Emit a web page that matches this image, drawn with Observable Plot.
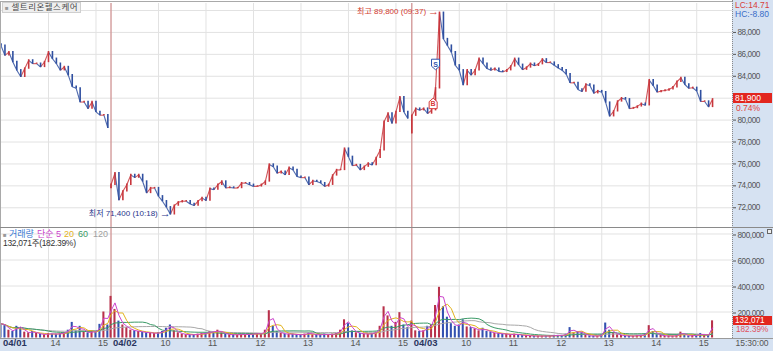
<!DOCTYPE html>
<html><head><meta charset="utf-8">
<script src="https://cdn.jsdelivr.net/npm/d3@7"></script>
<script src="https://cdn.jsdelivr.net/npm/@observablehq/plot@0.6"></script>
<style>
body{margin:0;background:#fff;}
#wrap{position:relative;width:773px;height:351px;overflow:hidden;background:#fff;font-family:"Liberation Sans","Noto Sans CJK KR",sans-serif;}
#wrap svg{position:absolute;left:0;}
#wrap g[aria-label="y-axis tick label"] text{letter-spacing:-0.45px;}
.ab{position:absolute;white-space:nowrap;line-height:1;}
</style></head><body><div id="wrap"></div>
<script>
// ---------- data (5-minute bars) ----------
const title = "셀트리온헬스케어";
const dayLabels = ["04/01", "04/02", "04/03"];
const dayStartHour = [13, 9, 9];
const dayOffset = [0, 139, 519];          // minute index of each day's first bar
const barStep = 5;                        // minutes per bar
const dayOpen = [86900, 73800, 78800];

const close1 = [86800, 85900, 86200, 85300, 84550, 83950, 84700, 85450, 85150, 85150,
  84850, 85300, 86200, 85600, 85150, 84550, 84850, 84100, 83050, 82900,
  81650, 81650, 81050, 81650, 80750, 80450, 80450, 79300];
const close2 = [74100, 75150, 72700, 73500, 74100, 75000, 74750, 75000, 74400, 73350,
  73800, 73800, 73050, 72600, 72050, 71400, 72200, 72500, 72600, 72600,
  72350, 72200, 72600, 72900, 72650, 73750, 73650, 74100, 74400, 73800,
  73850, 73800, 73800, 74250, 74250, 74100,
  73950, 73950, 74100, 74400, 75950, 75750, 75150, 75300, 75000, 75650,
  75450, 74850, 74750, 74750, 74100, 74450, 74400, 74250, 73950, 74100,
  74950, 75450, 75450, 77400, 76650, 75850, 75900, 75450, 75750, 76050,
  75900, 76550, 77250, 79850, 80600, 79700, 80750, 82100, 80750, 80150];
const close3 = [80400, 81050, 80900, 81050, 80600, 80900, 82900, 89800, 87400, 86800,
  86200, 85000, 84550, 83200, 84550, 84100, 84550, 85600, 85150, 84700,
  84550, 84700,
  84450, 84400, 84550, 84900, 85600, 85050, 84600, 84800, 85150, 84950,
  85100, 85550, 85250, 85250, 85000, 84750, 84550, 84200, 83400, 83400,
  82800, 82600, 83250, 83150, 82450, 82650, 82550, 81600, 80350, 80800,
  81700, 82000, 81900, 81050, 81100, 81250, 81500, 81350, 83650, 83150,
  82550, 82650, 82700, 82800, 83000, 83500, 83850, 83250, 82900, 82950,
  82650, 81700, 81700, 81200, 81900];

const vol1 = [110000, 95000, 60000, 50000, 90000, 80000, 45000, 40000, 50000, 35000,
  30000, 25000, 35000, 30000, 30000, 35000, 40000, 60000, 120000, 55000,
  90000, 45000, 40000, 50000, 45000, 105000, 200000, 100000];
const vol2 = [320000, 220000, 130000, 100000, 80000, 60000, 55000, 50000, 45000, 40000,
  40000, 35000, 40000, 50000, 75000, 100000, 55000, 40000, 30000, 25000,
  25000, 25000, 30000, 35000, 35000, 50000, 45000, 60000, 40000, 30000,
  25000, 25000, 25000, 30000, 25000, 30000,
  30000, 35000, 30000, 60000, 210000, 90000, 50000, 35000, 30000, 30000,
  30000, 25000, 25000, 30000, 40000, 25000, 25000, 25000, 30000, 25000,
  30000, 35000, 60000, 140000, 110000, 55000, 40000, 35000, 30000, 30000,
  35000, 45000, 90000, 240000, 170000, 90000, 120000, 195000, 100000, 80000];
const vol3 = [130000, 55000, 50000, 55000, 90000, 100000, 250000, 390000, 240000, 160000,
  110000, 90000, 100000, 140000, 85000, 80000, 70000, 55000, 75000, 50000,
  45000, 35000, 35000, 30000, 30000, 25000, 30000, 25000,
  20000, 20000, 15000, 15000, 15000, 15000, 15000, 15000, 20000, 20000,
  20000, 30000, 80000, 40000, 50000, 40000, 20000, 15000, 15000, 15000,
  25000, 115000, 60000, 40000, 25000, 20000, 15000, 15000, 15000, 20000,
  20000, 30000, 95000, 50000, 25000, 20000, 15000, 15000, 15000, 20000,
  45000, 20000, 15000, 20000, 20000, 35000, 20000, 25000, 132071];

const hourLabels = [["14", "15"], ["10", "11", "12", "13", "14", "15"], ["10", "11", "12", "13", "14", "15"]];
const priceTicks = [72000, 74000, 76000, 78000, 80000, 84000, 86000, 88000];   // 82,000 sits under the price box
const priceGrid = [72000, 74000, 76000, 78000, 80000, 82000, 84000, 86000, 88000, 90000];
const volTicks = [200000, 400000, 600000, 800000];

const extremeNames = ["최고", "최저"];
const extremeValues = [89800, 71400];
const extremeTimes = ["09:37", "10:18"];
const extremeDays = [2, 1];

const signalTypes = ["B", "S"];
const signalTimes = ["09:27", "09:30"];
const signalPrices = [81500, 85100];

const lastPrice = 81900, lastPct = "0.74%";
const lastVolume = 132071, lastVolPct = "182.39%";
const lastTime = "15:30:00";
const lcText = "LC:14.71", hcText = "HC:-8.80";
const volLegendName = "거래량", maPrefix = "단순";
const maLabels = ["5", "20", "60", "120"];
const maWindows = [2, 4, 12, 24]; // windows in 5-minute bars

// ---------- build ----------
const fmt = d3.format(",");
const RED = "#c8363c", BLUE = "#2f4fa0";
const MA_COLORS = ["#cc44cc", "#e3b21c", "#3a9a66", "#a8a8a8"];
const closesByDay = [close1, close2, close3], volsByDay = [vol1, vol2, vol3];
const rows = [];
closesByDay.forEach((cl, d) => cl.forEach((c, i) => {
  const open = i === 0 ? dayOpen[d] : cl[i - 1];
  const t = dayOffset[d] + barStep * i;
  rows.push({t, tPrev: i === 0 ? t : t - barStep, open, close: c, vol: volsByDay[d][i], up: c >= open});
}));
const tOf = (d, hhmm) => { const [h, m] = hhmm.split(":").map(Number); return dayOffset[d] + (h - dayStartHour[d]) * 60 + m; };
const hourTicks = [];
hourLabels.forEach((hs, d) => hs.forEach(h => hourTicks.push({t: tOf(d, h + ":00"), label: h})));
const dayTicks = dayLabels.map((l, d) => ({t: dayOffset[d], label: l}));
const seps = dayOffset.slice(1);
const extremes = extremeNames.map((n, i) => ({t: tOf(extremeDays[i], extremeTimes[i]), p: extremeValues[i],
  text: `${n} ${fmt(extremeValues[i])} (${extremeTimes[i]})`, color: i === 0 ? "#d23a30" : "#27358a"}));
const signals = signalTypes.map((s, i) => ({t: tOf(2, signalTimes[i]), p: signalPrices[i], s, color: s === "B" ? "#d83a3a" : "#2f55b0"}));

const tagDown = {draw(ctx, size) { const r = Math.sqrt(size / Math.PI), w = r * 0.8;
  ctx.moveTo(-w, -r); ctx.lineTo(w, -r); ctx.lineTo(w, r * 0.4); ctx.lineTo(0, r * 1.1); ctx.lineTo(-w, r * 0.4); ctx.closePath(); }};
const tagUp = {draw(ctx, size) { const r = Math.sqrt(size / Math.PI), w = r * 0.8;
  ctx.moveTo(-w, r); ctx.lineTo(w, r); ctx.lineTo(w, -r * 0.4); ctx.lineTo(0, -r * 1.1); ctx.lineTo(-w, -r * 0.4); ctx.closePath(); }};

const xDomain = [-0.63, 924.2];
const FONT = '"Liberation Sans","Noto Sans CJK KR",sans-serif';
const GRID = "#e2e2e2", SEP = "#d39a9a";

const price = Plot.plot({
  width: 773, height: 228, marginTop: 3, marginBottom: 1, marginLeft: 0, marginRight: 41,
  x: {domain: xDomain, axis: null, label: null},
  y: {domain: [70200, 90640], axis: null, label: null},
  style: {background: "transparent", fontFamily: FONT},
  marks: [
    Plot.ruleY(priceGrid, {stroke: GRID}),
    Plot.ruleX(hourTicks, {x: "t", stroke: GRID}),
    Plot.ruleX(seps, {stroke: SEP, strokeWidth: 1.4}),
    Plot.link(rows, {x1: "tPrev", x2: "t", y1: "open", y2: "close", stroke: d => d.up ? RED : BLUE, strokeWidth: 1.1, strokeOpacity: 0.85}),
    Plot.ruleX(rows, {x: "t", y1: d => Math.min(d.open, d.close) - 60, y2: d => Math.max(d.open, d.close) + 60,
      stroke: d => d.up ? RED : BLUE, strokeWidth: 1.6}),
    Plot.axisY({anchor: "right", label: null, ticks: priceTicks, tickFormat: fmt, tickSize: 3, tickPadding: 2, fontSize: 8.2, color: "#555"}),
    Plot.text(extremes, {x: "t", y: "p", text: "text", textAnchor: "end", dx: -15, dy: -1, fill: "color", fontSize: 8}),
    Plot.text(extremes, {x: "t", y: "p", text: () => "→", textAnchor: "end", dx: -2, dy: -1, fill: "color", fontSize: 11, fontWeight: "bold"}),
    Plot.dot(signals.filter(d => d.s === "S"), {x: "t", y: "p", r: 5, symbol: tagDown, fill: "white", stroke: "color", strokeWidth: 1}),
    Plot.dot(signals.filter(d => d.s === "B"), {x: "t", y: "p", r: 5, symbol: tagUp, fill: "white", stroke: "color", strokeWidth: 1}),
    Plot.text(signals, {x: "t", y: "p", text: "s", fill: "color", fontSize: 7, fontWeight: "bold", dy: 0.5})
  ]
});
price.style.top = "0px";

const volume = Plot.plot({
  width: 773, height: 123, marginTop: 0, marginBottom: 13, marginLeft: 0, marginRight: 41,
  x: {domain: xDomain, axis: null, label: null},
  y: {domain: [-3800, 842300], axis: null, label: null},
  style: {background: "transparent", fontFamily: FONT},
  marks: [
    Plot.ruleY(volTicks, {stroke: GRID}),
    Plot.ruleX(hourTicks, {x: "t", stroke: GRID}),
    Plot.ruleX(seps, {stroke: SEP, strokeWidth: 1.4}),
    Plot.rect(rows, {x1: d => d.t - 1.3, x2: d => d.t + 1.3, y1: 0, y2: "vol", fill: d => d.up ? "#b8304a" : "#3350b0"}),
    Plot.line(rows, Plot.windowY({k: maWindows[3], anchor: "end"}, {x: "t", y: "vol", stroke: MA_COLORS[3], strokeWidth: 1})),
    Plot.line(rows, Plot.windowY({k: maWindows[2], anchor: "end"}, {x: "t", y: "vol", stroke: MA_COLORS[2], strokeWidth: 1})),
    Plot.line(rows, Plot.windowY({k: maWindows[1], anchor: "end"}, {x: "t", y: "vol", stroke: MA_COLORS[1], strokeWidth: 1})),
    Plot.line(rows, Plot.windowY({k: maWindows[0], anchor: "end"}, {x: "t", y: "vol", stroke: MA_COLORS[0], strokeWidth: 1})),
    Plot.axisY({anchor: "right", label: null, ticks: volTicks, tickFormat: fmt, tickSize: 3, tickPadding: 2, fontSize: 8.2, color: "#555", dy: 1}),
    Plot.text(hourTicks, {x: "t", text: "label", frameAnchor: "bottom", dy: 7, dx: 2, textAnchor: "start", fill: "#555", fontSize: 9}),
    Plot.text(dayTicks, {x: "t", text: "label", frameAnchor: "bottom", dy: 7, dx: 2, textAnchor: "start", fill: "#2a3560", fontSize: 9.5, fontWeight: "bold"}),
    Plot.text([lastTime], {text: d => d, frameAnchor: "bottom-right", dy: 7, dx: 3, textAnchor: "start", fill: "#555", fontSize: 8.5})
  ]
});
volume.style.top = "228px";

// ---------- page ----------
const wrap = document.getElementById("wrap");
function div(css, html) { const e = document.createElement("div"); e.className = "ab"; e.style.cssText = css; if (html != null) e.innerHTML = html; wrap.appendChild(e); return e; }
const PANEL = "#d6e2f2";
div("left:732px;top:0;width:41px;height:351px;background:" + PANEL);
div("left:0;top:338px;width:773px;height:13px;background:" + PANEL);
wrap.appendChild(price);
wrap.appendChild(volume);
// frame lines
div("left:0;top:1px;width:732px;height:1px;background:#a9a9a9");
div("left:0;top:1px;width:1px;height:338px;background:#a9a9a9");
div("left:0;top:227px;width:773px;height:1px;background:#8a8a8a");
div("left:0;top:338px;width:773px;height:1px;background:#9a9a9a");
div("left:732px;top:0;width:0;height:338px;border-left:1px dotted #8a8a8a");
// title
div("left:2px;top:2px;height:9px;padding:0 2px;background:#eeeeee;border:1px solid #cfcfcf;font-size:8.5px;color:#444;line-height:9px;letter-spacing:0.5px",
  '<span style="color:#999;font-size:6px;letter-spacing:0">■</span> ' + title);
div("left:735px;top:1px;font-size:8.5px;color:#d8403a;line-height:8px", lcText);
div("left:735px;top:10px;font-size:8.5px;color:#3a6cc8;line-height:8px", hcText);
// last price box
const yP = price.scale("y").apply(lastPrice);
div(`left:733px;top:${yP - 5.5}px;width:39px;height:10px;background:#e2261e;color:#fff;font-size:8.5px;line-height:10px;padding-left:2px;box-sizing:border-box`, fmt(lastPrice));
div(`left:736px;top:${yP + 5.5}px;font-size:8.5px;color:#e0403a;line-height:8px`, lastPct);
// volume legend
div("left:3px;top:231px;font-size:6px;color:#999;line-height:8px", "■");
div("left:9px;top:230px;font-size:9px;color:#3a7bd5;line-height:9px", volLegendName);
div(`left:37px;top:230px;font-size:9px;color:${MA_COLORS[0]};line-height:9px`, maPrefix + " " + maLabels[0]);
div(`left:64px;top:230px;font-size:9px;color:${MA_COLORS[1]};line-height:9px`, maLabels[1]);
div(`left:78px;top:230px;font-size:9px;color:${MA_COLORS[2]};line-height:9px`, maLabels[2]);
div(`left:93px;top:230px;font-size:9px;color:#a0a0a0;line-height:9px`, maLabels[3]);
div("left:3px;top:239px;font-size:8.5px;color:#333;line-height:9px;letter-spacing:-0.3px", fmt(lastVolume) + "주(" + lastVolPct + ")");
div("left:767px;top:229px;width:3px;height:3px;border:1px solid #666;background:#eee");
const yV = 228 + volume.scale("y").apply(lastVolume);
div(`left:733px;top:${yV - 4}px;width:39px;height:9px;background:#e2261e;color:#fff;font-size:8.2px;line-height:9px;padding-left:2px;box-sizing:border-box`, fmt(lastVolume));
div(`left:736px;top:${yV + 5.5}px;font-size:8.2px;color:#e05060;line-height:8px`, lastVolPct);
</script></body></html>
